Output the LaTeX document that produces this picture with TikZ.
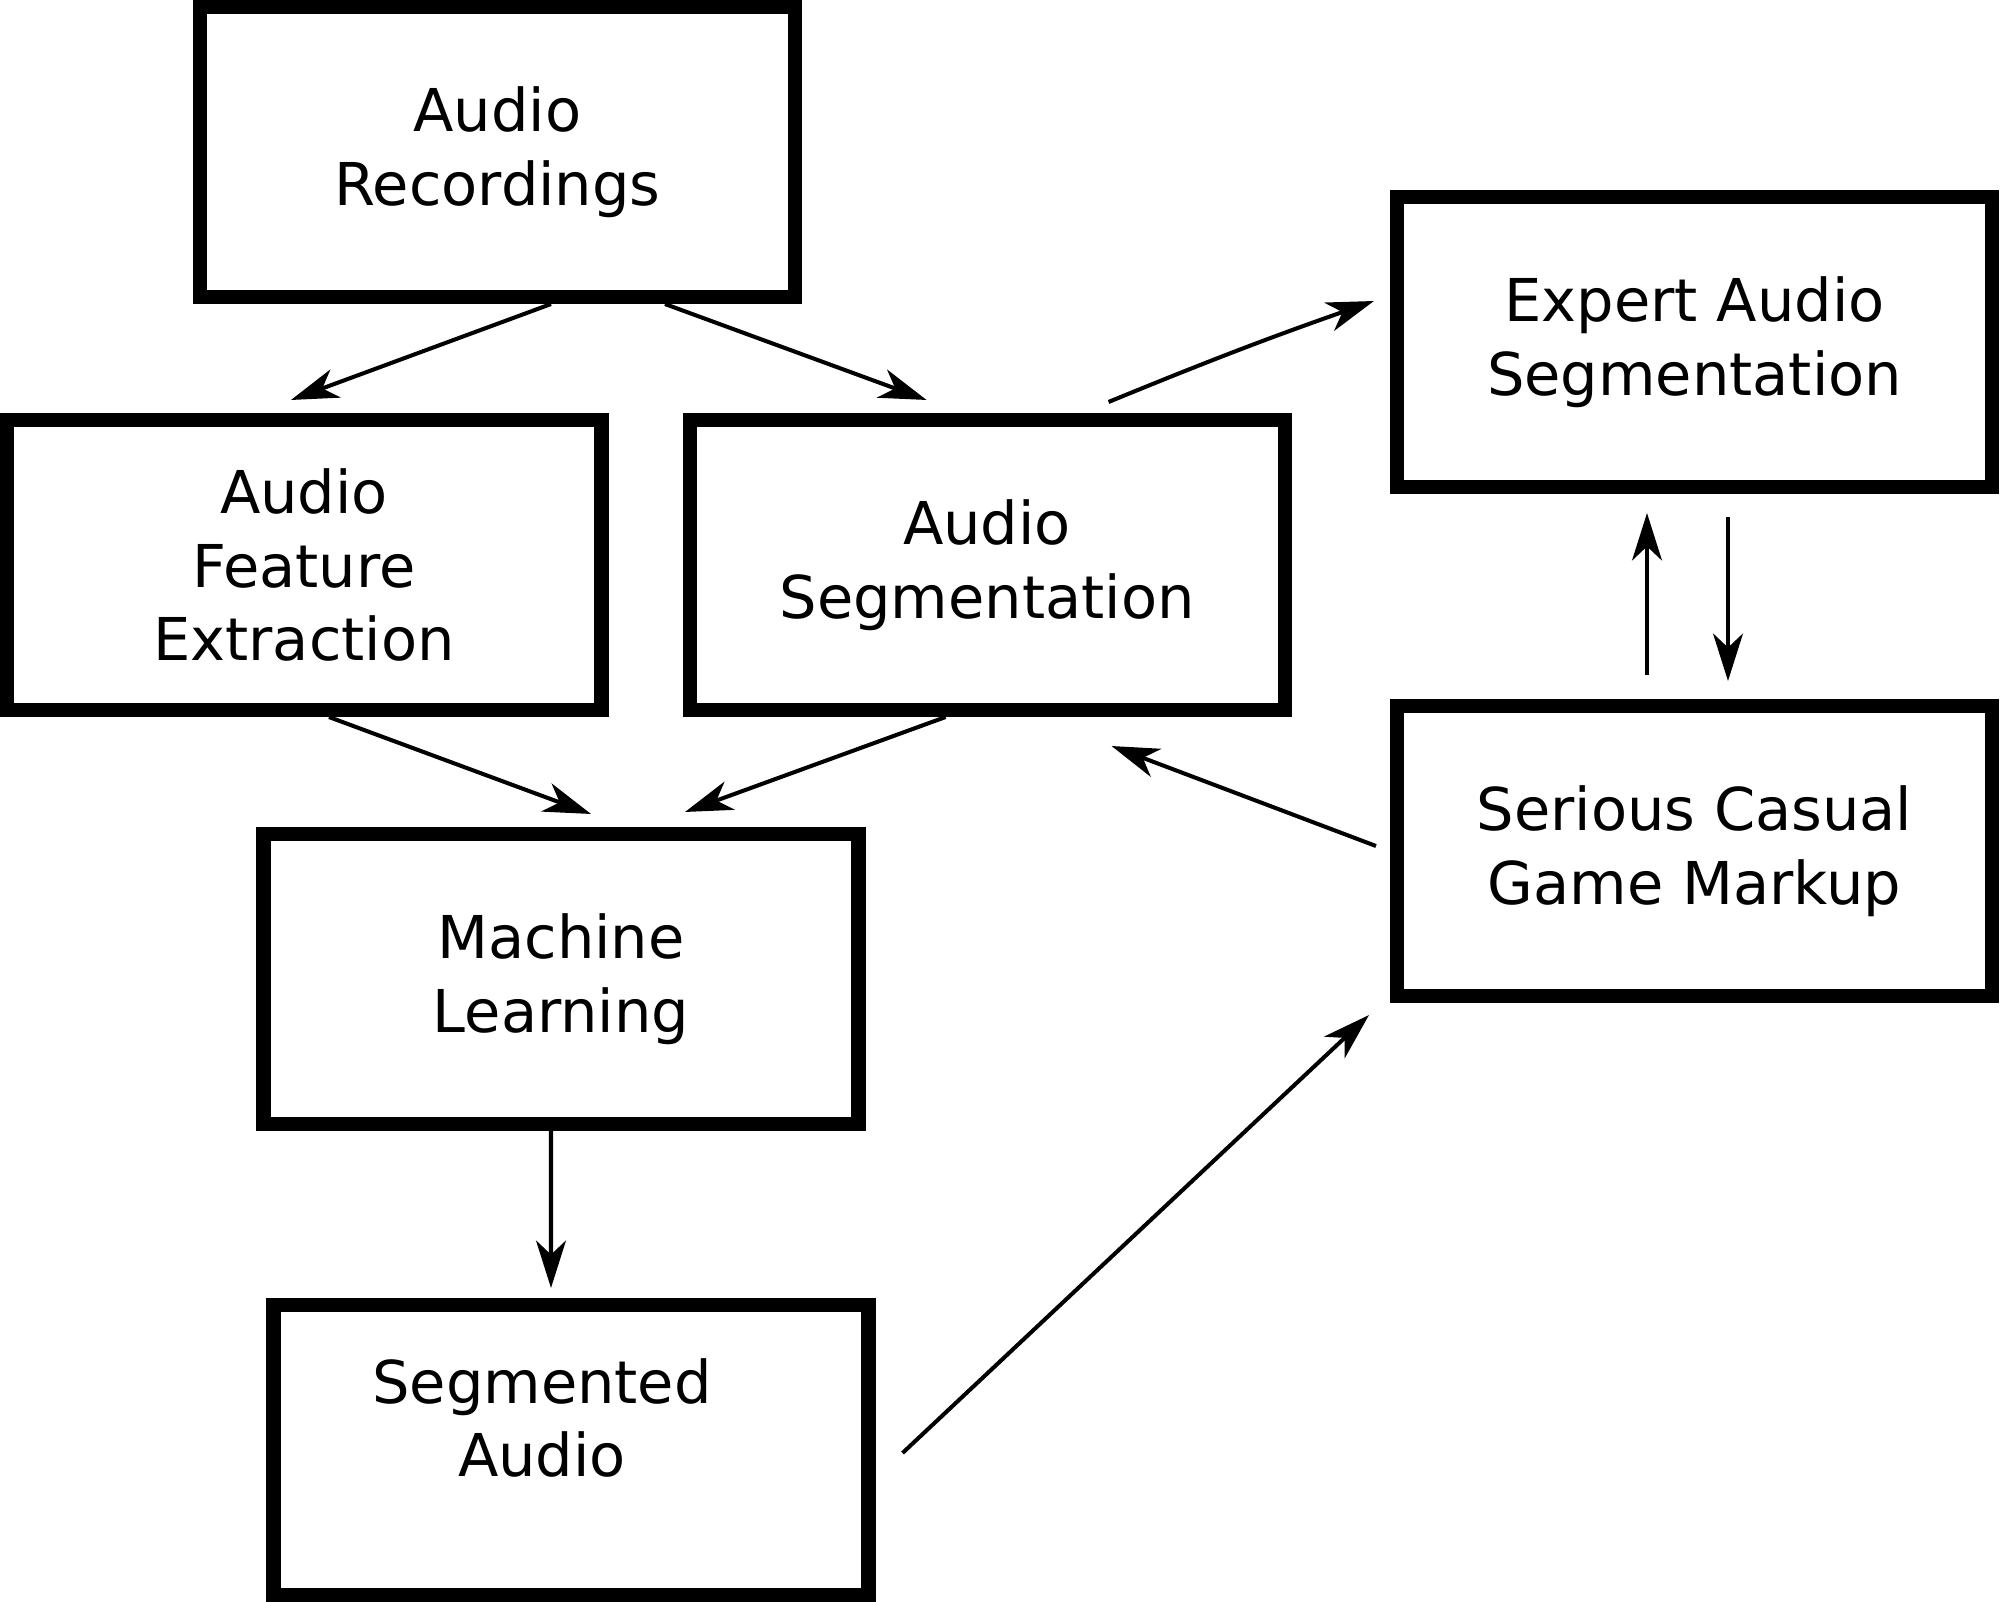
\documentclass[tikz,border=0pt]{standalone}
\usepackage{fontspec}
\setmainfont{DejaVu Sans}
\usetikzlibrary{arrows.meta,positioning}

\begin{document}
\begin{tikzpicture}[line width=1.15pt,
  >={Stealth[length=13.5pt,width=8.5pt,inset=4pt]},
  box/.style={draw, line width=4pt, minimum width=5.95cm, minimum height=2.9cm,
    inner sep=0pt, align=center, font=\fontsize{16.8}{21}\selectfont}]
  \useasboundingbox (0,0) rectangle (20,-16.02);

  \node[box] (rec) at (4.975,-1.52) {Audio\\Recordings};
  \node[box] (feat) at (3.04,-5.65) {Audio\\Feature\\Extraction};
  \node[box] (seg) [right=0.74cm of feat] {Audio\\Segmentation};
  \node[box] (ml) at (5.61,-9.79) {Machine\\Learning};
  \node[box, label={[align=center, font=\fontsize{16.8}{21}\selectfont,
    xshift=-0.29cm, yshift=0.32cm]center:Segmented\\Audio}] (out) at (5.71,-14.5) {};
  \node[box] (exp) at (16.945,-3.42) {Expert Audio\\Segmentation};
  \node[box] (game) at (16.945,-8.51) {Serious Casual\\Game Markup};

  \path[->]
    ([xshift=0.535cm]rec.south) edge ([shift={(-0.13,0.13)}]feat.north)
    ([xshift=1.675cm]rec.south) edge ([shift={(-0.605,0.13)}]seg.north)
    ([shift={(1.215,0.11)}]seg.north) edge [bend left=1.5] ([shift={(-0.16,0.41)}]exp.west)
    ([shift={(0.335,-0.23)}]exp.south) edge ([shift={(0.335,0.18)}]game.north)
    ([shift={(-0.475,0.24)}]game.north) edge ([shift={(-0.475,-0.19)}]exp.south)
    ([shift={(-0.14,0.05)}]game.west) edge ([shift={(-1.8,-0.29)}]seg.south east)
    ([xshift=0.25cm]feat.south) edge ([shift={(0.30,0.13)}]ml.north)
    ([xshift=-0.415cm]seg.south) edge ([shift={(1.24,0.15)}]ml.north)
    ([xshift=-0.10cm]ml.south) edge ([shift={(-0.2,0.10)}]out.north)
    ([shift={(0.27,-0.03)}]out.east) edge ([shift={(-0.21,-0.12)}]game.south west);
\end{tikzpicture}
\end{document}
